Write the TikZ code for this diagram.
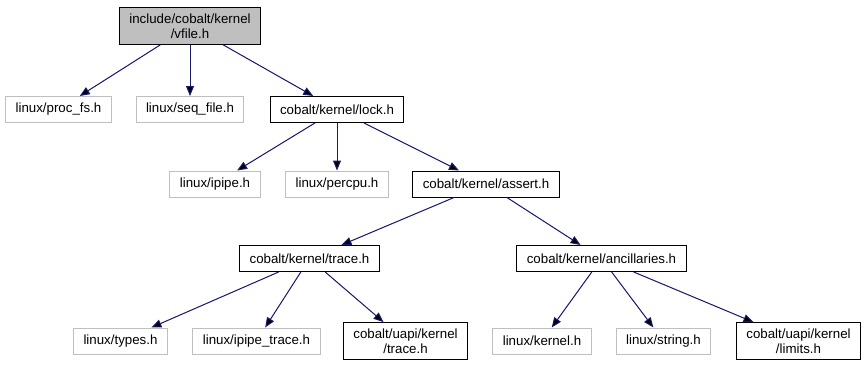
\documentclass[tikz,border=0pt]{standalone}
\usepackage{fontspec}
\setmainfont{Liberation Sans}
\usetikzlibrary{arrows.meta}
\definecolor{edgeblue}{HTML}{191970}
\definecolor{boxgray}{HTML}{BFBFBF}

\begin{document}
\begin{tikzpicture}[x=1pt, y=1pt, node distance=74.5pt,
    main/.style = {draw=black, rectangle, line width=1pt, minimum height=26pt, inner xsep=10pt, inner ysep=6pt, align=center, font=\fontsize{13.3}{15}\selectfont},
    ext/.style = {main, draw=boxgray},
    root/.style = {main, fill=boxgray}]
      \useasboundingbox (0,0) rectangle (865,-368);
      \node[root] (1) at (190,-26) {include/cobalt/kernel\\/vfile.h};
      \node[ext] (3) [below of=1, node distance=83.5pt] {linux/seq\_file.h};
      \node[ext] (2) [left of=3, node distance=131.5pt] {linux/proc\_fs.h};
      \node[main] (4) [right of=3, node distance=147pt] {cobalt/kernel/lock.h};
      \node[ext] (6) [below of=4] {linux/percpu.h};
      \node[ext] (5) [left of=6, node distance=122pt] {linux/ipipe.h};
      \node[main] (7) [right of=6, node distance=149pt] {cobalt/kernel/assert.h};
      \node[main] (8) [below of=7, xshift=-176.5pt] {cobalt/kernel/trace.h};
      \node[main] (9) [right of=8, node distance=292pt] {cobalt/kernel/ancillaries.h};
      \node[ext] (11) [below of=8, node distance=82.5pt, xshift=-53pt] {linux/ipipe\_trace.h};
      \node[ext] (10) [left of=11, node distance=136pt] {linux/types.h};
      \node[main] (12) [right of=11, node distance=149pt] {cobalt/uapi/kernel\\/trace.h};
      \node[ext] (13) [right of=12, node distance=136.5pt] {linux/kernel.h};
      \node[ext] (14) [right of=13, node distance=121.5pt] {linux/string.h};
      \node[main] (15) [right of=14, node distance=135pt] {cobalt/uapi/kernel\\/limits.h};

      \path[draw=edgeblue, line width=1pt, -{Triangle[length=10pt, width=8pt]}, every edge/.append style={fill=edgeblue}]
      (1) edge (2)
      (1) edge (3)
      (1) edge (4)
      (4) edge (5)
      (4) edge (6)
      (4) edge (7)
      (7) edge (8)
      (7) edge (9)
      (8) edge (10)
      (8) edge (11)
      (8) edge (12)
      (9) edge (13)
      (9) edge (14)
      (9) edge (15);
    \end{tikzpicture}
\end{document}
